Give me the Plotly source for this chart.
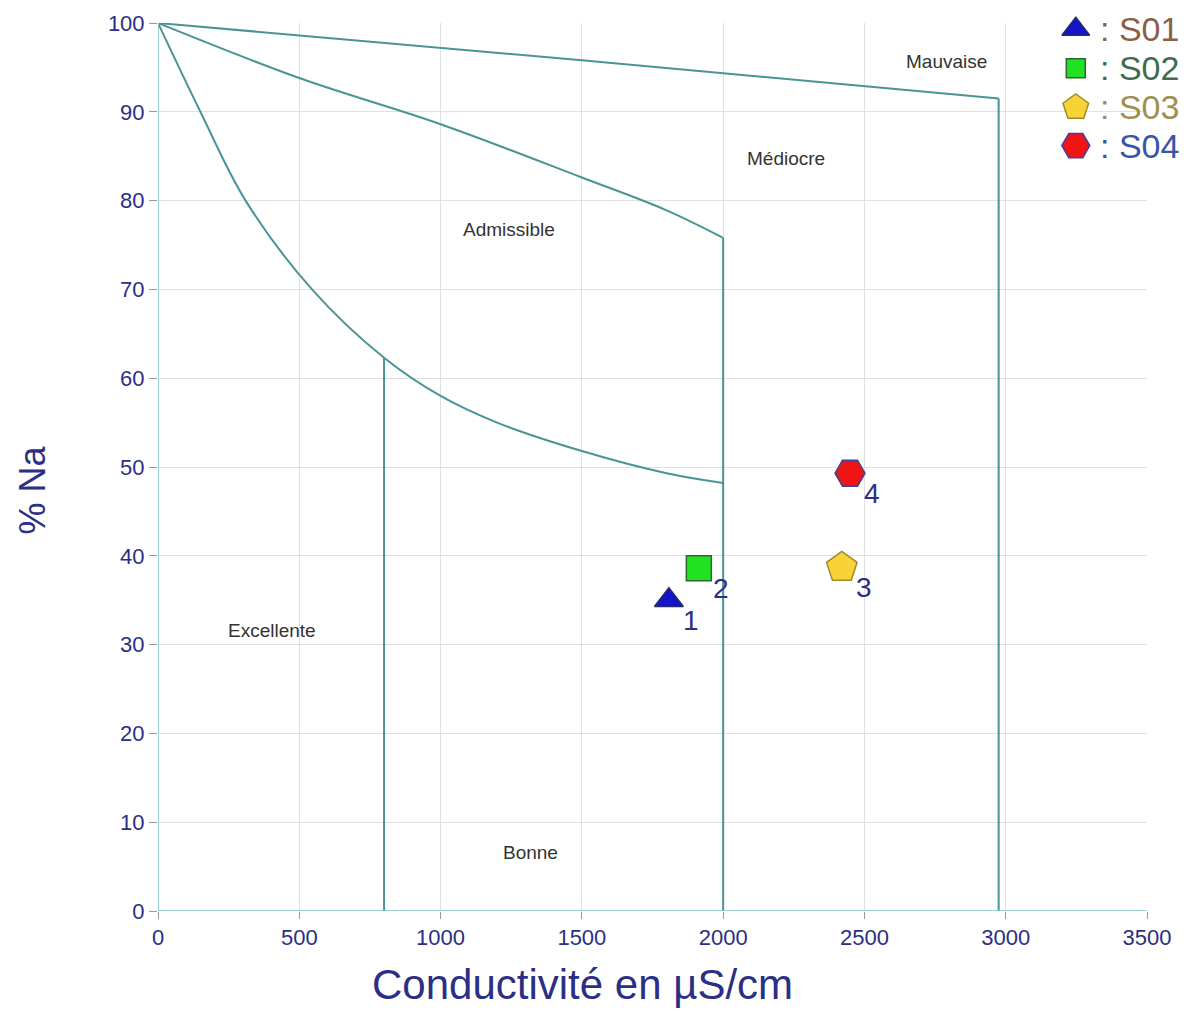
import plotly.graph_objects as go

# Boundary curves (Wilcox diagram)
curve_low_x = [0, 150, 310, 545, 800, 1000, 1200, 1500, 1800, 2000]
curve_low_y = [100, 90, 80, 70, 62.3, 58, 55, 51.8, 49.3, 48.2]
curve_mid_x = [0, 500, 1000, 1500, 1800, 2000]
curve_mid_y = [100, 93.8, 88.6, 82.6, 78.9, 75.8]
curve_up_x = [0, 1500, 2975]
curve_up_y = [100, 95.8, 91.5]
vlines_x = [800, 2000, 2975]
vlines_top = [62.3, 75.8, 91.5]

# Samples
samples = ["S01", "S02", "S03", "S04"]
sample_labels = ["1", "2", "3", "4"]
cond = [1808, 1914, 2420, 2449]
pct_na = [35.0, 38.6, 38.7, 49.3]
symbols = ["triangle-up", "square", "pentagon", "hexagon2"]
sizes = [25, 25, 32, 30]
legend_sizes = [24, 19, 27, 28]
fills = ["#1414c8", "#22e022", "#f7d335", "#f01515"]
outlines = ["#2a2a70", "#2a6a2a", "#a08a30", "#4040a0"]
name_colors = ["#8b5e46", "#3f6b50", "#a09050", "#3555a8"]

# Legend rows (placed in data space at the top right)
legend_x = 3248
legend_y = [99.3, 94.9, 90.5, 86.2]

# Region labels
region_names = ["Excellente", "Bonne", "Admissible", "Médiocre", "Mauvaise"]
region_x = [403, 1320, 1242, 2222, 2792]
region_y = [31.6, 6.6, 76.7, 84.7, 95.7]

x_ticks = [0, 500, 1000, 1500, 2000, 2500, 3000, 3500]
y_ticks = [0, 10, 20, 30, 40, 50, 60, 70, 80, 90, 100]

LINE = "#4a9494"
AXIS = "#7cc4c0"
NAVY = "#2b2f85"
FONT = "Liberation Sans, Arial"

fig = go.Figure()
line_style = dict(color=LINE, width=2)
fig.add_trace(go.Scatter(x=curve_low_x, y=curve_low_y, mode="lines", line=line_style,
                         line_shape="spline", hoverinfo="skip"))
fig.add_trace(go.Scatter(x=curve_mid_x, y=curve_mid_y, mode="lines", line=line_style,
                         line_shape="spline", hoverinfo="skip"))
fig.add_trace(go.Scatter(x=curve_up_x, y=curve_up_y, mode="lines", line=line_style,
                         hoverinfo="skip"))
for vx, vt in zip(vlines_x, vlines_top):
    fig.add_trace(go.Scatter(x=[vx, vx], y=[vt, 0], mode="lines", line=line_style,
                             hoverinfo="skip"))

# axis lines along x=0 and y=0
fig.add_trace(go.Scatter(x=[0, 3500], y=[0, 0], mode="lines", line=dict(color=AXIS, width=1.5),
                         hoverinfo="skip", cliponaxis=False))
fig.add_trace(go.Scatter(x=[0, 0], y=[0, 100], mode="lines", line=dict(color=AXIS, width=1.5),
                         hoverinfo="skip", cliponaxis=False))

for i in range(len(samples)):
    fig.add_trace(go.Scatter(
        x=[cond[i]], y=[pct_na[i]], mode="markers", name=samples[i],
        marker=dict(symbol=symbols[i], size=sizes[i], color=fills[i],
                    line=dict(color=outlines[i], width=1.5)),
    ))
    fig.add_annotation(x=cond[i], y=pct_na[i], text=sample_labels[i], showarrow=False,
                       xshift=22, yshift=-20,
                       font=dict(size=28, color=NAVY, family=FONT))
    # legend entry
    fig.add_trace(go.Scatter(
        x=[legend_x], y=[legend_y[i]], mode="markers", cliponaxis=False, hoverinfo="skip",
        marker=dict(symbol=symbols[i], size=legend_sizes[i], color=fills[i],
                    line=dict(color=outlines[i], width=1.5)),
    ))
    fig.add_annotation(x=legend_x, y=legend_y[i], text=": " + samples[i], showarrow=False,
                       xanchor="left", xshift=22,
                       font=dict(size=34, color=name_colors[i], family=FONT))

for n, rx, ry in zip(region_names, region_x, region_y):
    fig.add_annotation(x=rx, y=ry, text=n, showarrow=False,
                       font=dict(size=19, color="#333333", family=FONT))

# axis titles
fig.add_annotation(xref="paper", yref="paper", x=0.429, y=-0.083, text="Conductivité en µS/cm",
                   showarrow=False, xanchor="center", yanchor="middle",
                   font=dict(size=42, color=NAVY, family=FONT))
fig.add_annotation(xref="paper", yref="paper", x=-0.127, y=0.474, text="% Na", textangle=-90,
                   showarrow=False, xanchor="center", yanchor="middle",
                   font=dict(size=36, color=NAVY, family=FONT))

fig.update_layout(
    width=1190, height=1026,
    margin=dict(l=150, r=51, t=15, b=123, autoexpand=False),
    paper_bgcolor="white", plot_bgcolor="white",
    showlegend=False,
    font=dict(family=FONT, color=NAVY),
    xaxis=dict(range=[0, 3500], tickvals=x_ticks, showgrid=True, gridcolor="#e0e0e0",
               zeroline=False, showline=False, ticks="outside", ticklen=7, automargin=False,
               tickcolor="#999999", tickfont=dict(size=22, color=NAVY)),
    yaxis=dict(range=[0, 100], tickvals=y_ticks, showgrid=True, gridcolor="#e0e0e0",
               zeroline=False, showline=False, ticks="outside", ticklen=8, automargin=False,
               tickcolor="#999999", tickfont=dict(size=22, color=NAVY)),
)

fig.write_html("out.html")
